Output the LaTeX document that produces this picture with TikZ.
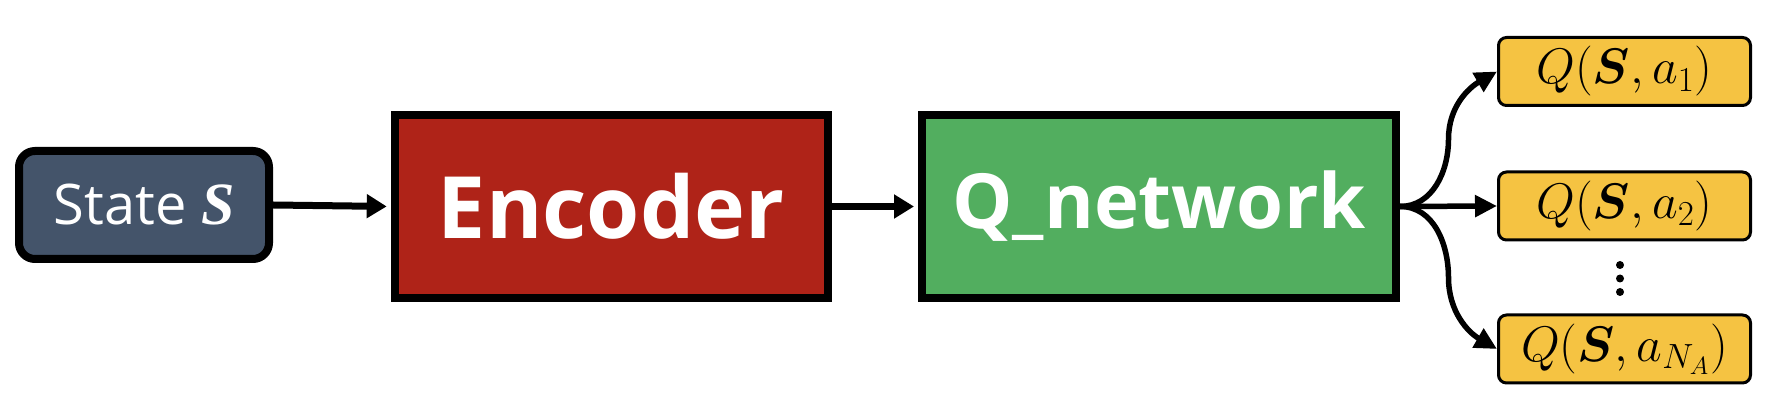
\RequirePackage{fix-cm}
\documentclass[tikz,border=0pt]{standalone}
\usepackage{fontspec}
\usepackage{bm}
\setmainfont{Open Sans}
\newfontfamily\bisfont{Liberation Serif}
\usetikzlibrary{arrows.meta,calc}
\definecolor{slate}{RGB}{68,84,106}
\definecolor{encred}{RGB}{175,35,24}
\definecolor{qgreen}{RGB}{82,174,95}
\definecolor{qgold}{RGB}{245,195,66}
\begin{document}
\begin{tikzpicture}[x=0.5pt,y=0.5pt,
  statebox/.style={draw=black,line width=4pt,fill=slate,rounded corners=8pt,minimum width=125pt,minimum height=54pt,inner sep=0pt,text=white,font=\fontsize{28}{32}\selectfont},
  bigbox/.style={draw=black,line width=4pt,minimum height=91.5pt,inner sep=0pt,text=white},
  qbox/.style={draw=black,line width=1.5pt,fill=qgold,rounded corners=4pt,minimum width=126pt,minimum height=34pt,inner sep=0pt,font=\fontsize{25}{30}\selectfont},
  dotmark/.style={circle,fill=black,inner sep=0pt,minimum size=4pt},
  flow/.style={line width=3.5pt,shorten >=2pt,-{Triangle[length=10pt,width=11.5pt]}},
  branch/.style={line width=2.75pt,-{Triangle[length=11pt,width=10.5pt]}}
]
\useasboundingbox (0,0) rectangle (1772,406);
\node[statebox] (st) at (144,201) {State {\bisfont\fontsize{30}{34}\selectfont\bfseries\itshape S}};
\node[bigbox,fill=encred,minimum width=216.5pt,font=\fontsize{43}{50}\selectfont\bfseries] (enc) at (611.2,199.5) {Encoder};
\node[bigbox,fill=qgreen,minimum width=237pt,font=\fontsize{38}{46}\selectfont\bfseries] (qn) at (1159,199.5) {Q\_network};
\node[qbox] (q1) at (1624.5,334.5) {$Q(\bm{S},a_1)$\hspace{11pt}};
\node[qbox] (q2) at (1624.5,200) {$Q(\bm{S},a_2)$\hspace{11pt}};
\node[qbox] (q3) at (1624.5,57) {$Q(\bm{S},a_{N_A})$\hspace{11pt}};
\node[dotmark] (d1) at (1620,141) {};
\node[dotmark] (d2) at (1620,127.5) {};
\node[dotmark] (d3) at (1620,114) {};
\draw[flow] (st.east) -- (enc.west);
\draw[flow] (enc.east) -- (qn.west);
\draw[branch] (qn.east) -- (q2.west);
\draw[branch] (qn.east) to[out=0,in=-90] ($(qn.east)!.5!(q1.west)$) to[out=90,in=210] (q1.west);
\draw[branch] (qn.east) to[out=0,in=90] ($(qn.east)!.5!(q3.west)$) to[out=-90,in=150] (q3.west);
\end{tikzpicture}
\end{document}
